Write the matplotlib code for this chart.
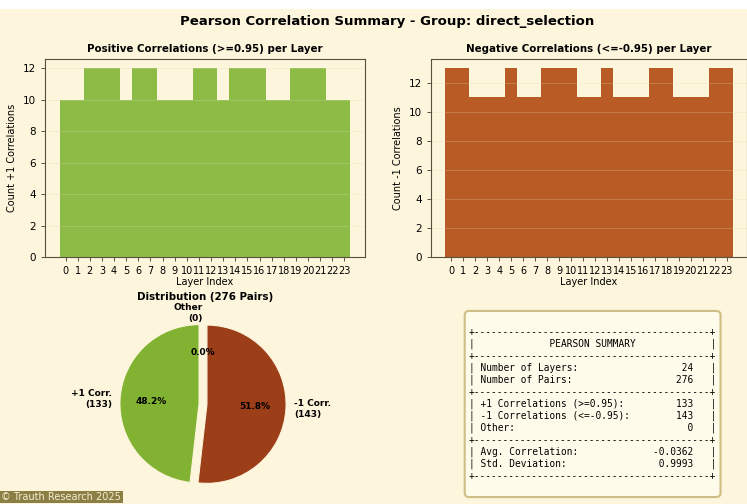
import numpy as np
import matplotlib
matplotlib.use("Agg")
import matplotlib.pyplot as plt
from matplotlib.patches import Rectangle

# per-layer counts
layers = list(range(24))
pos_counts = [10, 10, 12, 12, 12, 10, 12, 12, 10, 10, 10, 12,
              12, 10, 12, 12, 12, 10, 10, 12, 12, 12, 10, 10]
neg_counts = [13, 13, 11, 11, 11, 13, 11, 11, 13, 13, 13, 11,
              11, 13, 11, 11, 11, 13, 13, 11, 11, 11, 13, 13]

pie_values = [133, 143, 0]
pie_labels = ["+1 Corr.\n(133)", "-1 Corr.\n(143)", "Other\n(0)"]

summary_rows = [("Number of Layers:", "24"), ("Number of Pairs:", "276")]
corr_rows = [("+1 Correlations (>=0.95):", "133"),
             ("-1 Correlations (<=-0.95):", "143"),
             ("Other:", "0")]
stat_rows = [("Avg. Correlation:", "-0.0362"), ("Std. Deviation:", "0.9993")]

BG = "#fdf5dc"
GREEN_BAR = "#8dbc46"
BROWN_BAR = "#b85b24"
GREEN_PIE = "#82b232"
RED_PIE = "#9c3e18"
SPINE = "#5a5040"

W, H = 747, 504
fig = plt.figure(figsize=(W / 100, H / 100), dpi=100, facecolor=BG)
fig.patches.append(Rectangle((0, 1 - 9 / H), 1, 9 / H, transform=fig.transFigure,
                             facecolor="white", edgecolor="none", zorder=0))

fig.text(387 / W, 1 - 21 / H, "Pearson Correlation Summary - Group: direct_selection",
         ha="center", va="center", fontsize=9.5, fontweight="bold")


def bar_panel(rect, counts, color, title, ylabel):
    ax = fig.add_axes(rect, facecolor=BG)
    ax.bar(layers, counts, width=1.0, color=color, zorder=1)
    ax.set_xticks(layers)
    ax.set_xticklabels([str(i) for i in layers], fontsize=7)
    ax.set_yticks(range(0, 13, 2))
    ax.tick_params(axis="y", labelsize=7.5)
    ax.tick_params(length=3, width=0.7, color=SPINE)
    ax.set_xlabel("Layer Index", fontsize=7, labelpad=1)
    ax.set_ylabel(ylabel, fontsize=7)
    ax.set_title(title, fontsize=7.4, fontweight="bold", pad=5)
    ax.grid(axis="y", color="#e6dcb8", alpha=0.3, linewidth=0.6, zorder=2)
    for s in ax.spines.values():
        s.set_color(SPINE)
        s.set_linewidth(0.8)
    return ax


ax1 = bar_panel([45 / W, 1 - 257 / H, 320 / W, 198 / H], pos_counts, GREEN_BAR,
                "Positive Correlations (>=0.95) per Layer", "Count +1 Correlations")
ax2 = bar_panel([431 / W, 1 - 257 / H, 316 / W, 198 / H], neg_counts, BROWN_BAR,
                "Negative Correlations (<=-0.95) per Layer", "Count -1 Correlations")

# pie
cx, cy, half = 203, 404, 110
ax3 = fig.add_axes([(cx - half) / W, 1 - (cy + half) / H, 2 * half / W, 2 * half / H])
ax3.set_facecolor(BG)
wedges, texts, autotexts = ax3.pie(
    pie_values, labels=pie_labels, colors=[GREEN_PIE, RED_PIE, "#d9cfa6"],
    startangle=90, explode=(0.05, 0.05, 0.05), autopct="%1.1f%%",
    textprops=dict(fontsize=6.5, fontweight="bold"),
    wedgeprops=dict(edgecolor=BG, linewidth=0.8))
ax3.set_xlim(-1.39, 1.39)
ax3.set_ylim(-1.39, 1.39)
ax3.set_aspect("equal")
ax3.axis("off")
fig.text(205 / W, 1 - 297 / H, "Distribution (276 Pairs)", ha="center", va="center",
         fontsize=7.4, fontweight="bold")

# summary table
inner = 41
border = "+" + "-" * inner + "+"


def row(label, value):
    return "| " + label.ljust(26) + value.rjust(11) + "   |"


lines = ["", border, "|" + "PEARSON SUMMARY".center(inner) + "|", border]
lines += [row(a, b) for a, b in summary_rows]
lines += [border]
lines += [row(a, b) for a, b in corr_rows]
lines += [border]
lines += [row(a, b) for a, b in stat_rows]
lines += [border, ""]
fig.text(469 / W, 1 - 404 / H, "\n".join(lines), family="DejaVu Sans Mono",
         fontsize=6.85, ha="left", va="center", linespacing=1.21,
         bbox=dict(boxstyle="round,pad=0.45", facecolor="#fffbea",
                   edgecolor="#cdbf86", linewidth=1.5))

fig.text(0.002, 1 - 492 / H, "\u00a9 Trauth Research 2025", fontsize=7,
         color="#f3ecd0", ha="left", va="top",
         bbox=dict(boxstyle="square,pad=0.15", facecolor="#8c7f45", edgecolor="none"))

fig.savefig("out.png", dpi=100, facecolor=BG)
